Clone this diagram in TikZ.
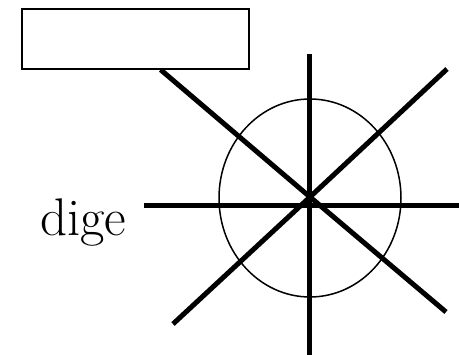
\documentclass[tikz,border=0pt]{standalone}
\usepackage{tikz}
\usetikzlibrary{positioning,calc}

\begin{document}
\begin{tikzpicture}[x=1pt,y=-1pt, every node/.style={inner sep=0pt},
    spoke/.style={line width=5pt}, thinline/.style={line width=1.5pt}]
    \useasboundingbox (0,0) rectangle (459,355);
    % label box and the wheel hub
    \node[draw,thinline,minimum width=227pt,minimum height=60pt] (box) at (135.5,39) {};
    \coordinate (hub) at (310,197);
    \coordinate (boxfoot) at ($(box.south west)!0.61!(box.south east)$);
    \draw[thinline] (310,198) ellipse (91pt and 99pt);
    % spoke ends
    \coordinate (ntop) at (309.5,54);
    \coordinate (nbot) at (309.5,355);
    \coordinate (wleft) at (144,206);
    \coordinate (wright) at (459,206);
    \coordinate (ne) at (447,69);
    \coordinate (sw) at (173,324);
    \coordinate (se) at (446,312);
    \draw[spoke] (ntop) -- (nbot);
    \draw[spoke] (wleft) -- (wright);
    \draw[spoke] (ne) -- (hub) -- (sw);
    \draw[spoke] (boxfoot) -- (hub) -- (se);
    \node[anchor=base west,font=\fontsize{53}{53}\selectfont] (word) at (40,236) {dige};
\end{tikzpicture}
\end{document}
